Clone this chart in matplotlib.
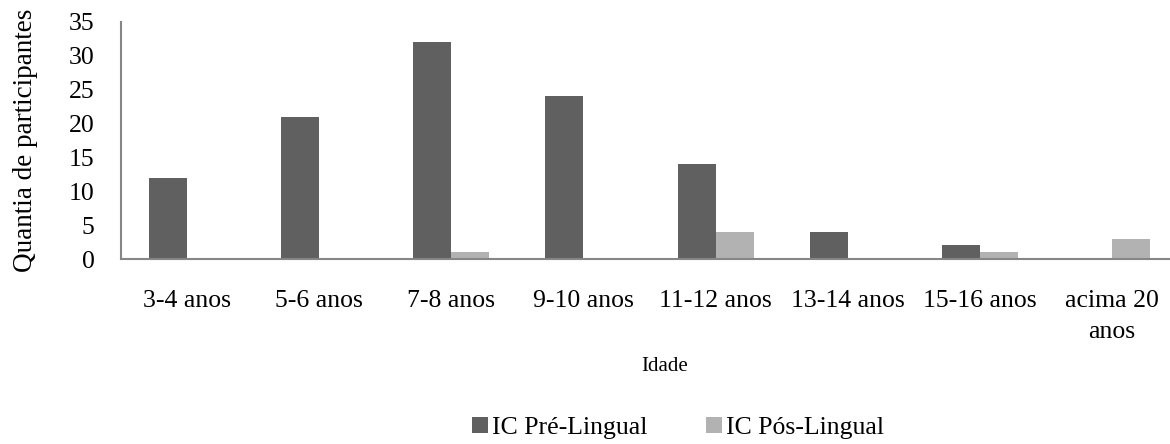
import matplotlib.pyplot as plt
import numpy as np

# Dados do gráfico
idades = ['3-4 anos', '5-6 anos', '7-8 anos', '9-10 anos', '11-12 anos',
          '13-14 anos', '15-16 anos', 'acima 20\nanos']
pre_lingual = [12, 21, 32, 24, 14, 4, 2, 0]
pos_lingual = [0, 0, 1, 0, 4, 0, 1, 3]

plt.rcParams['font.family'] = ['Liberation Serif', 'DejaVu Serif']

fig = plt.figure(figsize=(11.7, 4.44), dpi=100)
ax = fig.add_axes([121 / 1170, 185 / 444, 1057 / 1170, 237 / 444])

x = np.arange(len(idades))
w = 0.288
ax.bar(x - w / 2, pre_lingual, w, color='#606060', label='IC Pré-Lingual')
ax.bar(x + w / 2, pos_lingual, w, color='#b2b2b2', label='IC Pós-Lingual')

ax.set_xlim(-0.5, len(idades) - 0.5)
ax.set_ylim(0, 35)
ax.set_yticks(range(0, 36, 5))
ax.set_xticks(x)
ax.set_xticklabels(idades, linespacing=1.55)

for s in ['top', 'right']:
    ax.spines[s].set_visible(False)
ax.spines['left'].set_color('#868686')
ax.spines['bottom'].set_color('#868686')
ax.spines['left'].set_linewidth(1.5)
ax.spines['bottom'].set_linewidth(1.5)
ax.tick_params(axis='both', length=0, labelsize=18.5)
ax.tick_params(axis='y', pad=19)
ax.tick_params(axis='x', pad=22)

ax.set_ylabel('Quantia de participantes', fontsize=19.5, labelpad=22)
fig.text(665 / 1170, 1 - 366 / 444, 'Idade', ha='center', va='center', fontsize=15)

fig.legend(loc='center', bbox_to_anchor=(678 / 1170, 1 - 428 / 444), ncol=2,
           frameon=False, fontsize=18.5, handlelength=0.6, handleheight=0.6,
           handletextpad=0.15, columnspacing=2.3, borderpad=0)

fig.savefig('out.png', dpi=100)
